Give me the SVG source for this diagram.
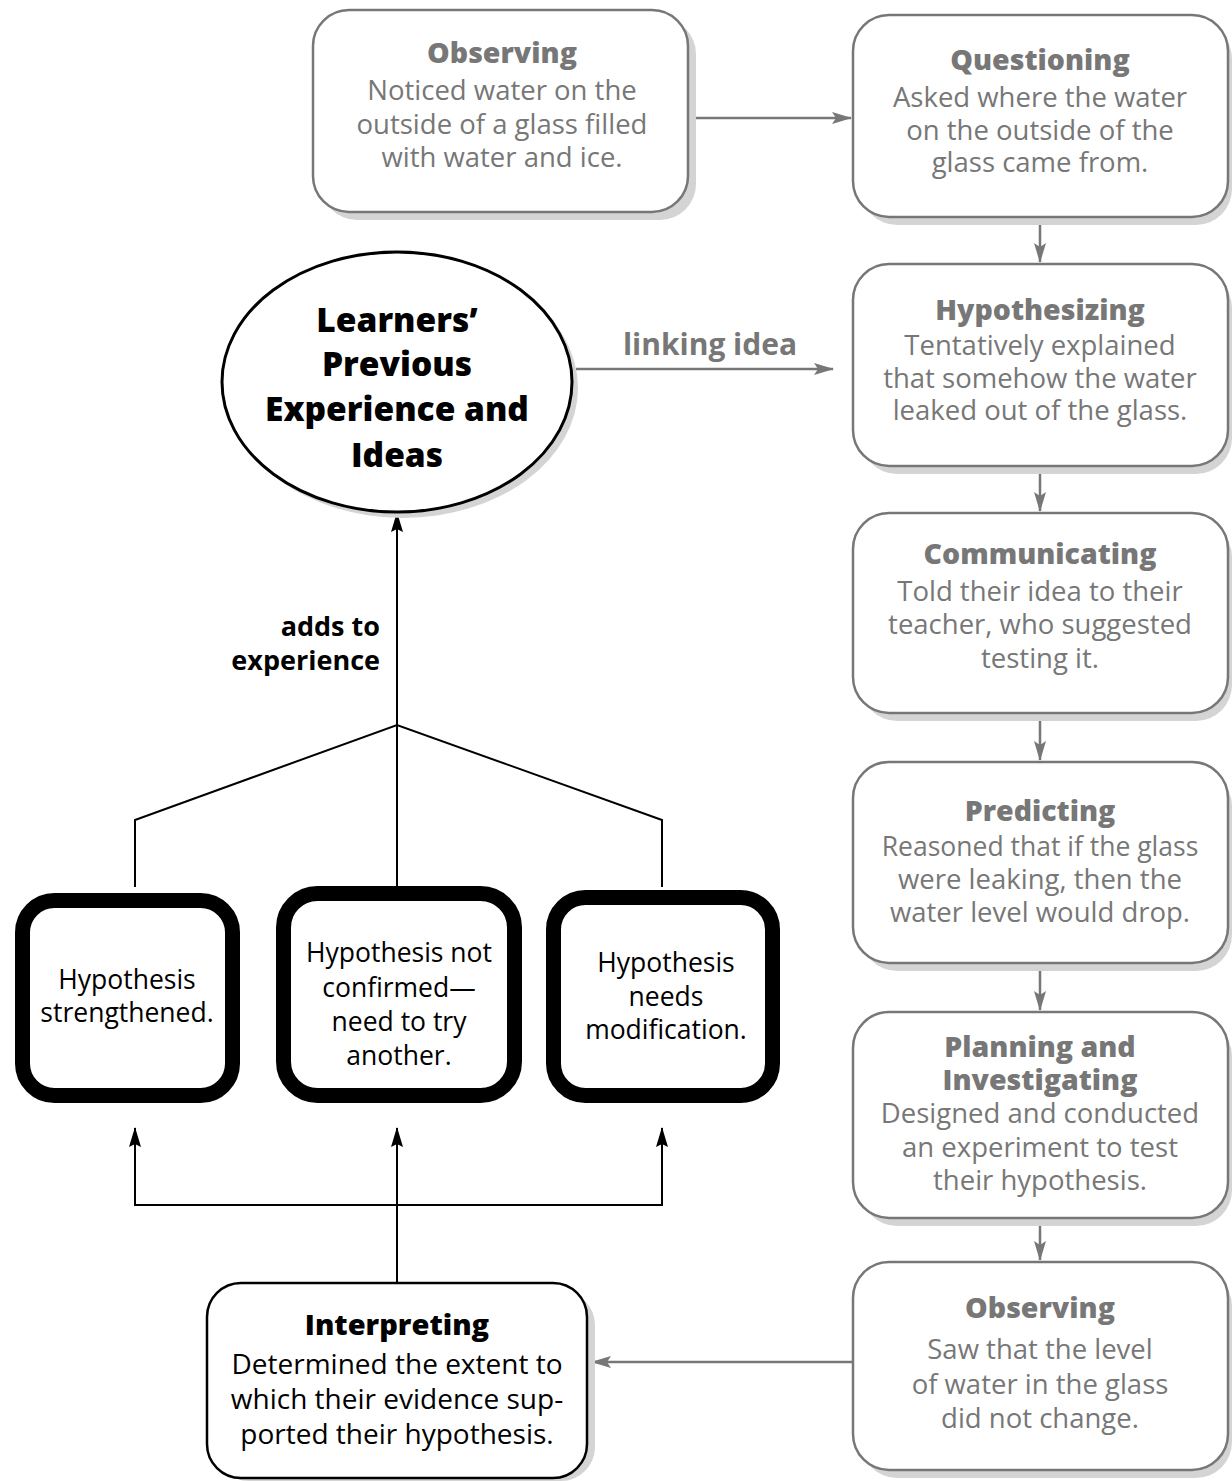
<svg xmlns="http://www.w3.org/2000/svg" width="1232" height="1481" viewBox="0 0 1232 1481">
<style>
.gbox{fill:#fff;stroke:#777;stroke-width:2.5}
.shadow{fill:#d4d4d4}
.gh{font-family:"Open Sans","Liberation Sans",sans-serif;font-weight:800;font-size:28.5px;fill:#777;text-anchor:middle}
.gt{font-family:"Open Sans","Liberation Sans",sans-serif;font-size:27.5px;fill:#777;text-anchor:middle}
.bh{font-family:"Open Sans","Liberation Sans",sans-serif;font-weight:800;font-size:29px;fill:#000;text-anchor:middle}
.eh{font-family:"Open Sans","Liberation Sans",sans-serif;font-weight:800;font-size:33.5px;fill:#000;text-anchor:middle}
.bt{font-family:"Open Sans","Liberation Sans",sans-serif;font-size:28px;fill:#000;text-anchor:middle}
.ht{font-family:"Open Sans","Liberation Sans",sans-serif;font-size:26.5px;fill:#000;text-anchor:middle}
.heavy{fill:#fff;stroke:#000;stroke-width:15}
.gline{stroke:#777;stroke-width:2.5;fill:none}
.bline{stroke:#000;stroke-width:2;fill:none}
</style>
<defs>
<marker id="bk" markerWidth="20" markerHeight="12" refX="19" refY="6" orient="auto" markerUnits="userSpaceOnUse"><path d="M0,0 L20,6 L0,12 L3,6 Z" fill="#000"/></marker>
<marker id="gk" markerWidth="20" markerHeight="12" refX="19" refY="6" orient="auto" markerUnits="userSpaceOnUse"><path d="M0,0 L20,6 L0,12 L4,6 Z" fill="#777"/></marker>
</defs>

<g id="connectors">
<line class="gline" x1="688" y1="118" x2="851" y2="118" marker-end="url(#gk)"/>
<line class="gline" x1="1040" y1="217" x2="1040" y2="262" marker-end="url(#gk)"/>
<line class="gline" x1="1040" y1="466" x2="1040" y2="511" marker-end="url(#gk)"/>
<line class="gline" x1="1040" y1="713" x2="1040" y2="760" marker-end="url(#gk)"/>
<line class="gline" x1="1040" y1="963" x2="1040" y2="1010" marker-end="url(#gk)"/>
<line class="gline" x1="1040" y1="1218" x2="1040" y2="1260" marker-end="url(#gk)"/>
<line class="gline" x1="576" y1="369" x2="833" y2="369" marker-end="url(#gk)"/>
<line class="gline" x1="853" y1="1362" x2="592" y2="1362" marker-end="url(#gk)"/>
<line class="bline" x1="397" y1="725" x2="397" y2="513" marker-end="url(#bk)"/>
<polyline class="bline" points="135,887 135,820 397,725 662,820 662,887"/>
<line class="bline" x1="397" y1="725" x2="397" y2="887"/>
<polyline class="bline" points="135,1130 135,1205 662,1205 662,1130"/>
<line class="bline" x1="135" y1="1205" x2="135" y2="1128" marker-end="url(#bk)"/>
<line class="bline" x1="662" y1="1205" x2="662" y2="1128" marker-end="url(#bk)"/>
<line class="bline" x1="397" y1="1283" x2="397" y2="1128" marker-end="url(#bk)"/>
<text x="710" y="355" font-family="'Open Sans','Liberation Sans',sans-serif" font-weight="700" font-size="30" fill="#777" text-anchor="middle">linking idea</text>
<text x="380" y="636" font-family="'Open Sans','Liberation Sans',sans-serif" font-weight="700" font-size="27" fill="#000" text-anchor="end">adds to</text>
<text x="380" y="670" font-family="'Open Sans','Liberation Sans',sans-serif" font-weight="700" font-size="27" fill="#000" text-anchor="end">experience</text>
</g>

<g id="observing1">
<rect class="shadow" x="321" y="18" width="375" height="202" rx="36"/>
<rect class="gbox" x="313" y="10" width="375" height="202" rx="36"/>
<text class="gh" x="502" y="63">Observing</text>
<text class="gt" x="502" y="100">Noticed water on the</text>
<text class="gt" x="502" y="134">outside of a glass filled</text>
<text class="gt" x="502" y="167">with water and ice.</text>
</g>

<g id="questioning">
<rect class="shadow" x="861" y="23" width="371" height="202" rx="36"/>
<rect class="gbox" x="853" y="15" width="375" height="202" rx="36"/>
<text class="gh" x="1040" y="70">Questioning</text>
<text class="gt" x="1040" y="107">Asked where the water</text>
<text class="gt" x="1040" y="140">on the outside of the</text>
<text class="gt" x="1040" y="172">glass came from.</text>
</g>

<g id="hypothesizing">
<rect class="shadow" x="861" y="272" width="371" height="202" rx="36"/>
<rect class="gbox" x="853" y="264" width="375" height="202" rx="36"/>
<text class="gh" x="1040" y="320">Hypothesizing</text>
<text class="gt" x="1040" y="355">Tentatively explained</text>
<text class="gt" x="1040" y="388">that somehow the water</text>
<text class="gt" x="1040" y="420">leaked out of the glass.</text>
</g>

<g id="communicating">
<rect class="shadow" x="861" y="521" width="371" height="200" rx="36"/>
<rect class="gbox" x="853" y="513" width="375" height="200" rx="36"/>
<text class="gh" x="1040" y="564">Communicating</text>
<text class="gt" x="1040" y="601">Told their idea to their</text>
<text class="gt" x="1040" y="634">teacher, who suggested</text>
<text class="gt" x="1040" y="668">testing it.</text>
</g>

<g id="predicting">
<rect class="shadow" x="861" y="770" width="371" height="201" rx="36"/>
<rect class="gbox" x="853" y="762" width="375" height="201" rx="36"/>
<text class="gh" x="1040" y="821">Predicting</text>
<text class="gt" x="1040" y="856" style="font-size:26.5px">Reasoned that if the glass</text>
<text class="gt" x="1040" y="889">were leaking, then the</text>
<text class="gt" x="1040" y="922">water level would drop.</text>
</g>

<g id="planning">
<rect class="shadow" x="861" y="1020" width="371" height="206" rx="36"/>
<rect class="gbox" x="853" y="1012" width="375" height="206" rx="36"/>
<text class="gh" x="1040" y="1057">Planning and</text>
<text class="gh" x="1040" y="1090">Investigating</text>
<text class="gt" x="1040" y="1123">Designed and conducted</text>
<text class="gt" x="1040" y="1157">an experiment to test</text>
<text class="gt" x="1040" y="1190">their hypothesis.</text>
</g>

<g id="observing2">
<rect class="shadow" x="861" y="1270" width="371" height="208" rx="36"/>
<rect class="gbox" x="853" y="1262" width="375" height="208" rx="36"/>
<text class="gh" x="1040" y="1318">Observing</text>
<text class="gt" x="1040" y="1359">Saw that the level</text>
<text class="gt" x="1040" y="1394">of water in the glass</text>
<text class="gt" x="1040" y="1428">did not change.</text>
</g>

<g id="learners">
<ellipse cx="403" cy="388" rx="175" ry="130" fill="#d4d4d4"/>
<ellipse cx="397" cy="382" rx="175" ry="130" fill="#fff" stroke="#000" stroke-width="3"/>
<text class="eh" x="397" y="332">Learners’</text>
<text class="eh" x="397" y="376">Previous</text>
<text class="eh" x="397" y="421">Experience and</text>
<text class="eh" x="397" y="467">Ideas</text>
</g>

<g id="strengthened">
<rect class="heavy" x="22.5" y="900.5" width="210" height="195" rx="32"/>
<text class="ht" x="127" y="989">Hypothesis</text>
<text class="ht" x="127" y="1022">strengthened.</text>
</g>

<g id="notconfirmed">
<rect class="heavy" x="283.5" y="893.5" width="231" height="202" rx="34"/>
<text class="ht" x="399" y="962">Hypothesis not</text>
<text class="ht" x="399" y="997">confirmed—</text>
<text class="ht" x="399" y="1031">need to try</text>
<text class="ht" x="399" y="1065">another.</text>
</g>

<g id="modification">
<rect class="heavy" x="553.5" y="897.5" width="219" height="198" rx="32"/>
<text class="ht" x="666" y="972">Hypothesis</text>
<text class="ht" x="666" y="1006">needs</text>
<text class="ht" x="666" y="1039">modification.</text>
</g>

<g id="interpreting">
<rect class="shadow" x="215" y="1291" width="380" height="190" rx="34"/>
<rect x="207" y="1283" width="380" height="195" rx="34" fill="#fff" stroke="#000" stroke-width="2.5"/>
<text class="bh" x="397" y="1335">Interpreting</text>
<text class="bt" x="397" y="1374">Determined the extent to</text>
<text class="bt" x="397" y="1409">which their evidence sup-</text>
<text class="bt" x="397" y="1444">ported their hypothesis.</text>
</g>
</svg>
